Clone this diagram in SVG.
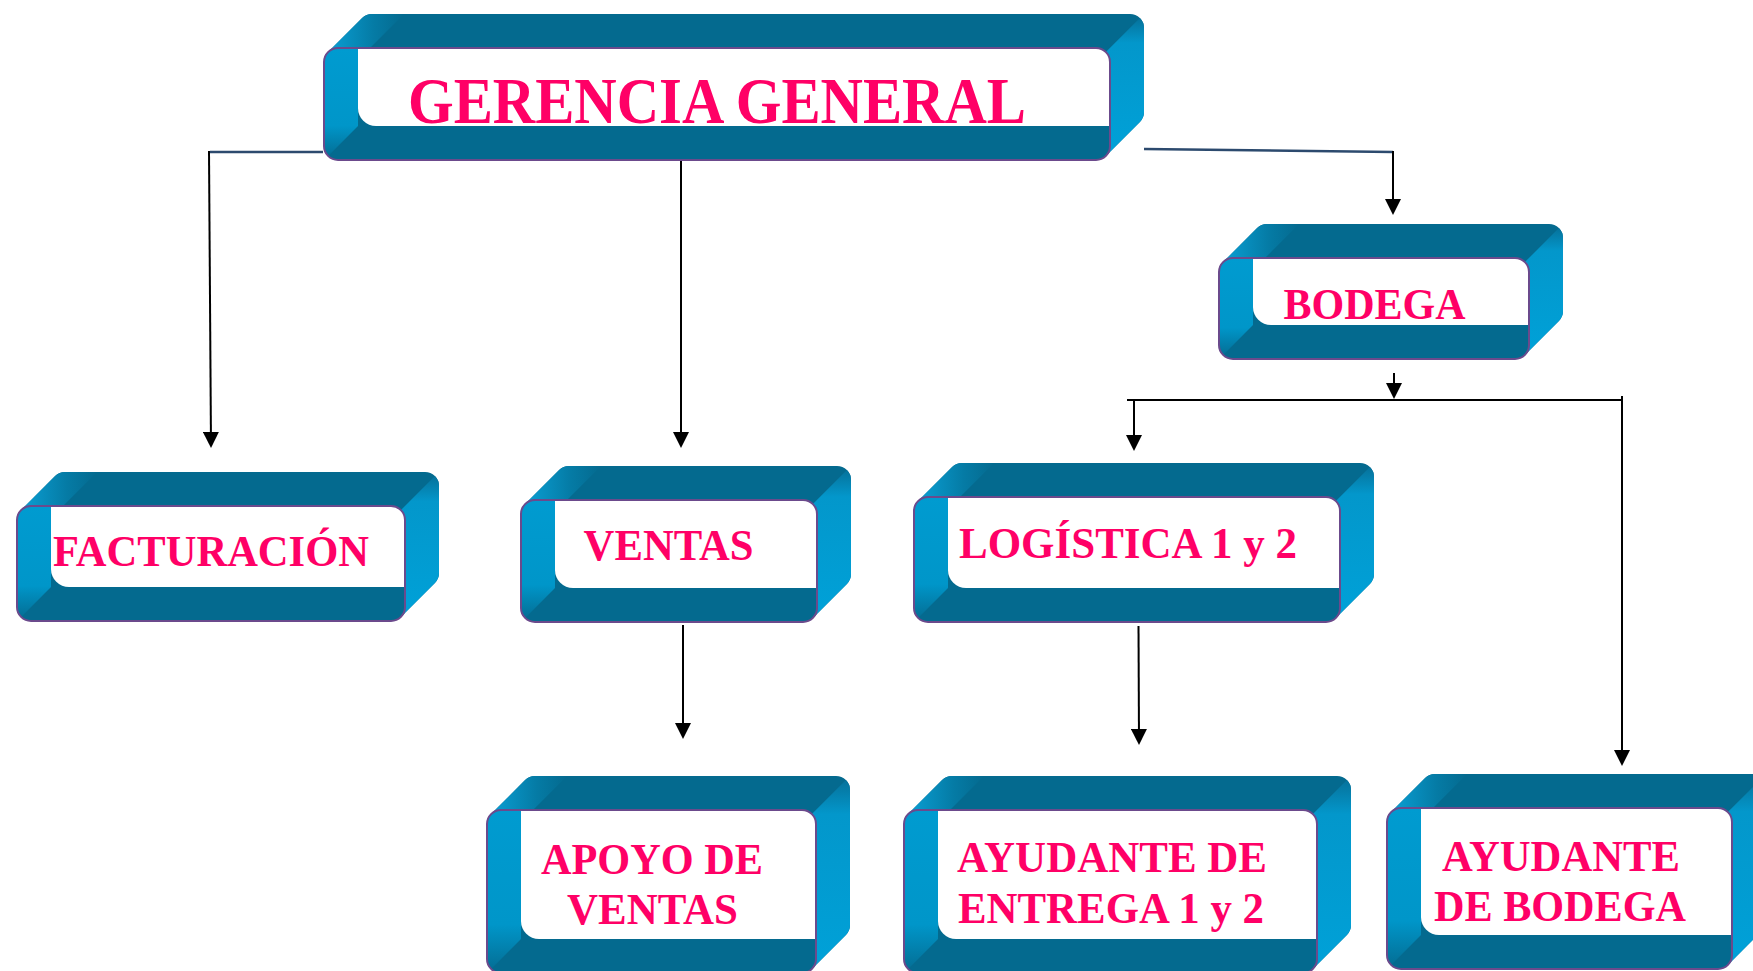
<svg xmlns="http://www.w3.org/2000/svg" width="1753" height="971" viewBox="0 0 1753 971">
<defs>
<style>
.sil{fill:#046a8f}
.rf{fill:url(#gRight)}
.bv{fill:url(#gBevel)}
.fr{fill:#046a8f}
.ls{fill:url(#gLeft)}
.wh{fill:#ffffff}
.ol{fill:none;stroke:#6b4a8c;stroke-width:2}
.t{font-family:"Liberation Serif","Times New Roman",serif;font-weight:bold;fill:#ff0066}
.ln{fill:none;stroke:#000;stroke-width:2}
.nv{fill:none;stroke:#2c4a6e;stroke-width:2.5}
</style>
<linearGradient id="gRight" x1="0" y1="0" x2="0" y2="1">
<stop offset="0" stop-color="#06729b"/>
<stop offset="0.18" stop-color="#0397cb"/>
<stop offset="1" stop-color="#00a1d8"/>
</linearGradient>
<linearGradient id="gBevel" x1="0" y1="0" x2="1" y2="0">
<stop offset="0" stop-color="#0a9fd4"/>
<stop offset="0.6" stop-color="#057ba5"/>
<stop offset="1" stop-color="#046a8f"/>
</linearGradient>
<linearGradient id="gLeft" x1="0" y1="0" x2="0" y2="1">
<stop offset="0" stop-color="#009bd0"/>
<stop offset="0.72" stop-color="#0096c9"/>
<stop offset="1" stop-color="#046f96"/>
</linearGradient>
<marker id="ah" markerUnits="userSpaceOnUse" markerWidth="16" markerHeight="16" viewBox="0 0 16 16" refX="14" refY="8" orient="auto">
<path d="M0,0 L16,8 L0,16 Z" fill="#000"/>
</marker>
</defs>
<rect width="1753" height="971" fill="#ffffff"/>

<g id="connectors">
<path class="nv" d="M323,152 L210,152"/>
<path class="nv" d="M1144,149 L1393,152"/>
<path class="ln" d="M209,151 L211,446" marker-end="url(#ah)"/>
<path class="ln" d="M681,160 L681,446" marker-end="url(#ah)"/>
<path class="ln" d="M1393,151 L1393,213" marker-end="url(#ah)"/>
<path class="ln" d="M1394,373 L1394,397" marker-end="url(#ah)"/>
<path class="ln" d="M1127,400 L1623,400"/>
<path class="ln" d="M1134,400 L1134,449" marker-end="url(#ah)"/>
<path class="ln" d="M1622,396 L1622,764" marker-end="url(#ah)"/>
<path class="ln" d="M683,625 L683,737" marker-end="url(#ah)"/>
<path class="ln" d="M1138.5,626 L1139,743" marker-end="url(#ah)"/>
</g>

<g id="gerencia" transform="translate(324,48)">
<path class="sil" d="M0,98 L0,14 A14,14 0 0 1 4.1,4.1 L38.1,-29.9 A14,14 0 0 1 48,-34 L806,-34 A14,14 0 0 1 820,-20 L820,64 A14,14 0 0 1 815.9,73.9 L781.9,107.9 A14,14 0 0 1 772,112 L14,112 A14,14 0 0 1 0,98 Z"/>
<path class="rf" d="M781.9,4.1 L815.9,-29.9 A14,14 0 0 1 820,-20 L820,64 A14,14 0 0 1 815.9,73.9 L781.9,107.9 L786,98 L786,14 Z"/>
<path class="bv" d="M4.1,4.1 L38.1,-29.9 A14,14 0 0 1 48,-34 L80,-34 L46,0 L14,0 A14,14 0 0 0 4.1,4.1 Z"/>
<rect class="fr" x="0" y="0" width="786" height="112" rx="14"/>
<path class="ls" d="M34,0 L14,0 A14,14 0 0 0 0,14 L0,98 A14,14 0 0 0 4.1,107.9 L34,78 Z"/>
<path class="wh" d="M34,0 L772,0 A14,14 0 0 1 786,14 L786,78 L52,78 A18,18 0 0 1 34,60 Z"/>
<rect class="ol" x="0" y="0" width="786" height="112" rx="14"/>
<text class="t" x="84" y="75" font-size="66" textLength="618" lengthAdjust="spacingAndGlyphs">GERENCIA GENERAL</text>
</g>

<g id="facturacion" transform="translate(17,506)">
<path class="sil" d="M0,101 L0,14 A14,14 0 0 1 4.1,4.1 L38.1,-29.9 A14,14 0 0 1 48,-34 L408,-34 A14,14 0 0 1 422,-20 L422,67 A14,14 0 0 1 417.9,76.9 L383.9,110.9 A14,14 0 0 1 374,115 L14,115 A14,14 0 0 1 0,101 Z"/>
<path class="rf" d="M383.9,4.1 L417.9,-29.9 A14,14 0 0 1 422,-20 L422,67 A14,14 0 0 1 417.9,76.9 L383.9,110.9 L388,101 L388,14 Z"/>
<path class="bv" d="M4.1,4.1 L38.1,-29.9 A14,14 0 0 1 48,-34 L80,-34 L46,0 L14,0 A14,14 0 0 0 4.1,4.1 Z"/>
<rect class="fr" x="0" y="0" width="388" height="115" rx="14"/>
<path class="ls" d="M34,0 L14,0 A14,14 0 0 0 0,14 L0,101 A14,14 0 0 0 4.1,110.9 L34,81 Z"/>
<path class="wh" d="M34,0 L374,0 A14,14 0 0 1 388,14 L388,81 L52,81 A18,18 0 0 1 34,63 Z"/>
<rect class="ol" x="0" y="0" width="388" height="115" rx="14"/>
<text class="t" x="36" y="60" font-size="45" textLength="316" lengthAdjust="spacingAndGlyphs">FACTURACIÓN</text>
</g>

<g id="ventas" transform="translate(521,500)">
<path class="sil" d="M0,108 L0,14 A14,14 0 0 1 4.1,4.1 L38.1,-29.9 A14,14 0 0 1 48,-34 L316,-34 A14,14 0 0 1 330,-20 L330,74 A14,14 0 0 1 325.9,83.9 L291.9,117.9 A14,14 0 0 1 282,122 L14,122 A14,14 0 0 1 0,108 Z"/>
<path class="rf" d="M291.9,4.1 L325.9,-29.9 A14,14 0 0 1 330,-20 L330,74 A14,14 0 0 1 325.9,83.9 L291.9,117.9 L296,108 L296,14 Z"/>
<path class="bv" d="M4.1,4.1 L38.1,-29.9 A14,14 0 0 1 48,-34 L80,-34 L46,0 L14,0 A14,14 0 0 0 4.1,4.1 Z"/>
<rect class="fr" x="0" y="0" width="296" height="122" rx="14"/>
<path class="ls" d="M34,0 L14,0 A14,14 0 0 0 0,14 L0,108 A14,14 0 0 0 4.1,117.9 L34,88 Z"/>
<path class="wh" d="M34,0 L282,0 A14,14 0 0 1 296,14 L296,88 L52,88 A18,18 0 0 1 34,70 Z"/>
<rect class="ol" x="0" y="0" width="296" height="122" rx="14"/>
<text class="t" x="62.6" y="60" font-size="45" textLength="170" lengthAdjust="spacingAndGlyphs">VENTAS</text>
</g>

<g id="logistica" transform="translate(914,497)">
<path class="sil" d="M0,111 L0,14 A14,14 0 0 1 4.1,4.1 L38.1,-29.9 A14,14 0 0 1 48,-34 L446,-34 A14,14 0 0 1 460,-20 L460,77 A14,14 0 0 1 455.9,86.9 L421.9,120.9 A14,14 0 0 1 412,125 L14,125 A14,14 0 0 1 0,111 Z"/>
<path class="rf" d="M421.9,4.1 L455.9,-29.9 A14,14 0 0 1 460,-20 L460,77 A14,14 0 0 1 455.9,86.9 L421.9,120.9 L426,111 L426,14 Z"/>
<path class="bv" d="M4.1,4.1 L38.1,-29.9 A14,14 0 0 1 48,-34 L80,-34 L46,0 L14,0 A14,14 0 0 0 4.1,4.1 Z"/>
<rect class="fr" x="0" y="0" width="426" height="125" rx="14"/>
<path class="ls" d="M34,0 L14,0 A14,14 0 0 0 0,14 L0,111 A14,14 0 0 0 4.1,120.9 L34,91 Z"/>
<path class="wh" d="M34,0 L412,0 A14,14 0 0 1 426,14 L426,91 L52,91 A18,18 0 0 1 34,73 Z"/>
<rect class="ol" x="0" y="0" width="426" height="125" rx="14"/>
<text class="t" x="45" y="61" font-size="45" textLength="338" lengthAdjust="spacingAndGlyphs">LOGÍSTICA 1 y 2</text>
</g>

<g id="bodega" transform="translate(1219,258)">
<path class="sil" d="M0,87 L0,14 A14,14 0 0 1 4.1,4.1 L38.1,-29.9 A14,14 0 0 1 48,-34 L330,-34 A14,14 0 0 1 344,-20 L344,53 A14,14 0 0 1 339.9,62.9 L305.9,96.9 A14,14 0 0 1 296,101 L14,101 A14,14 0 0 1 0,87 Z"/>
<path class="rf" d="M305.9,4.1 L339.9,-29.9 A14,14 0 0 1 344,-20 L344,53 A14,14 0 0 1 339.9,62.9 L305.9,96.9 L310,87 L310,14 Z"/>
<path class="bv" d="M4.1,4.1 L38.1,-29.9 A14,14 0 0 1 48,-34 L80,-34 L46,0 L14,0 A14,14 0 0 0 4.1,4.1 Z"/>
<rect class="fr" x="0" y="0" width="310" height="101" rx="14"/>
<path class="ls" d="M34,0 L14,0 A14,14 0 0 0 0,14 L0,87 A14,14 0 0 0 4.1,96.9 L34,67 Z"/>
<path class="wh" d="M34,0 L296,0 A14,14 0 0 1 310,14 L310,67 L52,67 A18,18 0 0 1 34,49 Z"/>
<rect class="ol" x="0" y="0" width="310" height="101" rx="14"/>
<text class="t" x="64.5" y="60.5" font-size="45" textLength="182" lengthAdjust="spacingAndGlyphs">BODEGA</text>
</g>

<g id="apoyo-ventas" transform="translate(487,810)">
<path class="sil" d="M0,149 L0,14 A14,14 0 0 1 4.1,4.1 L38.1,-29.9 A14,14 0 0 1 48,-34 L349,-34 A14,14 0 0 1 363,-20 L363,115 A14,14 0 0 1 358.9,124.9 L324.9,158.9 A14,14 0 0 1 315,163 L14,163 A14,14 0 0 1 0,149 Z"/>
<path class="rf" d="M324.9,4.1 L358.9,-29.9 A14,14 0 0 1 363,-20 L363,115 A14,14 0 0 1 358.9,124.9 L324.9,158.9 L329,149 L329,14 Z"/>
<path class="bv" d="M4.1,4.1 L38.1,-29.9 A14,14 0 0 1 48,-34 L80,-34 L46,0 L14,0 A14,14 0 0 0 4.1,4.1 Z"/>
<rect class="fr" x="0" y="0" width="329" height="163" rx="14"/>
<path class="ls" d="M34,0 L14,0 A14,14 0 0 0 0,14 L0,149 A14,14 0 0 0 4.1,158.9 L34,129 Z"/>
<path class="wh" d="M34,0 L315,0 A14,14 0 0 1 329,14 L329,129 L52,129 A18,18 0 0 1 34,111 Z"/>
<rect class="ol" x="0" y="0" width="329" height="163" rx="14"/>
<text class="t" x="54" y="63.5" font-size="45" textLength="222" lengthAdjust="spacingAndGlyphs">APOYO DE</text>
<text class="t" x="80" y="113.5" font-size="45" textLength="171" lengthAdjust="spacingAndGlyphs">VENTAS</text>
</g>

<g id="ayudante-entrega" transform="translate(904,810)">
<path class="sil" d="M0,149 L0,14 A14,14 0 0 1 4.1,4.1 L38.1,-29.9 A14,14 0 0 1 48,-34 L433,-34 A14,14 0 0 1 447,-20 L447,115 A14,14 0 0 1 442.9,124.9 L408.9,158.9 A14,14 0 0 1 399,163 L14,163 A14,14 0 0 1 0,149 Z"/>
<path class="rf" d="M408.9,4.1 L442.9,-29.9 A14,14 0 0 1 447,-20 L447,115 A14,14 0 0 1 442.9,124.9 L408.9,158.9 L413,149 L413,14 Z"/>
<path class="bv" d="M4.1,4.1 L38.1,-29.9 A14,14 0 0 1 48,-34 L80,-34 L46,0 L14,0 A14,14 0 0 0 4.1,4.1 Z"/>
<rect class="fr" x="0" y="0" width="413" height="163" rx="14"/>
<path class="ls" d="M34,0 L14,0 A14,14 0 0 0 0,14 L0,149 A14,14 0 0 0 4.1,158.9 L34,129 Z"/>
<path class="wh" d="M34,0 L399,0 A14,14 0 0 1 413,14 L413,129 L52,129 A18,18 0 0 1 34,111 Z"/>
<rect class="ol" x="0" y="0" width="413" height="163" rx="14"/>
<text class="t" x="53" y="62" font-size="45" textLength="310" lengthAdjust="spacingAndGlyphs">AYUDANTE DE</text>
<text class="t" x="54" y="112.5" font-size="45" textLength="306" lengthAdjust="spacingAndGlyphs">ENTREGA 1 y 2</text>
</g>

<g id="ayudante-bodega" transform="translate(1387,808)">
<path class="sil" d="M0,147 L0,14 A14,14 0 0 1 4.1,4.1 L38.1,-29.9 A14,14 0 0 1 48,-34 L365,-34 A14,14 0 0 1 379,-20 L379,113 A14,14 0 0 1 374.9,122.9 L340.9,156.9 A14,14 0 0 1 331,161 L14,161 A14,14 0 0 1 0,147 Z"/>
<path class="rf" d="M340.9,4.1 L374.9,-29.9 A14,14 0 0 1 379,-20 L379,113 A14,14 0 0 1 374.9,122.9 L340.9,156.9 L345,147 L345,14 Z"/>
<path class="bv" d="M4.1,4.1 L38.1,-29.9 A14,14 0 0 1 48,-34 L80,-34 L46,0 L14,0 A14,14 0 0 0 4.1,4.1 Z"/>
<rect class="fr" x="0" y="0" width="345" height="161" rx="14"/>
<path class="ls" d="M34,0 L14,0 A14,14 0 0 0 0,14 L0,147 A14,14 0 0 0 4.1,156.9 L34,127 Z"/>
<path class="wh" d="M34,0 L331,0 A14,14 0 0 1 345,14 L345,127 L52,127 A18,18 0 0 1 34,109 Z"/>
<rect class="ol" x="0" y="0" width="345" height="161" rx="14"/>
<text class="t" x="55" y="63" font-size="45" textLength="238" lengthAdjust="spacingAndGlyphs">AYUDANTE</text>
<text class="t" x="47" y="113" font-size="45" textLength="252" lengthAdjust="spacingAndGlyphs">DE BODEGA</text>
</g>
</svg>
